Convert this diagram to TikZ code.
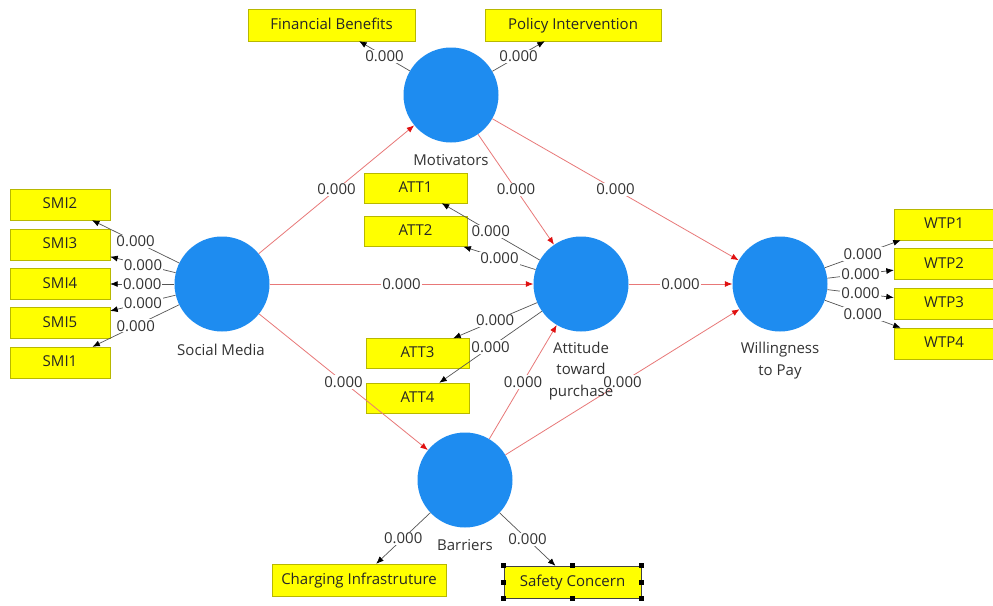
\documentclass[tikz,border=0pt]{standalone}
\usepackage{fontspec}
\setmainfont{Open Sans}
\usetikzlibrary{arrows.meta}
\definecolor{lvblue}{HTML}{1E8CF0}
\definecolor{indyellow}{HTML}{FFFF00}
\definecolor{indborder}{HTML}{B8B800}
\definecolor{pathred}{HTML}{E87878}
\definecolor{tipred}{HTML}{E01010}
\definecolor{txt}{HTML}{333333}
\definecolor{loadgray}{HTML}{555555}
\begin{document}
\begin{tikzpicture}[x=1pt,y=-1pt,
 lv/.style={circle, fill=lvblue, minimum size=95pt, inner sep=0pt},
 ind/.style={draw=indborder, fill=indyellow, minimum height=31pt, inner sep=0pt, text height=10.7pt, text depth=1.8pt, font=\fontsize{15}{17}\selectfont, text=black!85},
 lvname/.style={font=\fontsize{15}{21.5}\selectfont, text=txt, align=center},
 strpath/.style={draw=pathred, line width=0.8pt, -{Latex[length=7.5pt,width=6pt,color=tipred]}},
 loadpath/.style={draw=loadgray, line width=0.7pt, -{Latex[length=7.5pt,width=6pt,color=black]}},
 val/.style={fill=white, inner sep=1pt, font=\fontsize{15}{17}\selectfont, text=txt}]
\fill[white] (0,0) rectangle (993,605);
\useasboundingbox (0,0) rectangle (993,605);

% latent variables
\node[lv] (mot) at (451,95) {};
\node[lv] (sm) at (222,284) {};
\node[lv] (att) at (581,284) {};
\node[lv] (wtp) at (780,284) {};
\node[lv] (bar) at (465,480) {};

% indicators
\node[ind, minimum width=167pt, minimum height=32pt] (fb) at (331.5,25) {Financial Benefits};
\node[ind, minimum width=176pt, minimum height=32pt] (pi) at (573,25) {Policy Intervention};
\node[ind, minimum width=100pt] (smi2) at (60,204.5) {SMI2};
\node[ind, minimum width=100pt] (smi3) at (60,244.5) {SMI3};
\node[ind, minimum width=100pt] (smi4) at (60,284) {SMI4};
\node[ind, minimum width=100pt] (smi5) at (60,323) {SMI5};
\node[ind, minimum width=100pt] (smi1) at (60,362.5) {SMI1};
\node[ind, minimum width=103pt, minimum height=30pt] (att1) at (415.5,188) {ATT1};
\node[ind, minimum width=103pt, minimum height=30pt] (att2) at (415.5,231.5) {ATT2};
\node[ind, minimum width=103pt, minimum height=30pt] (att3) at (417.5,353.5) {ATT3};
\node[ind, minimum width=103pt, minimum height=30pt] (att4) at (417.5,398) {ATT4};
\node[ind, minimum width=100pt] (wtp1) at (944,224.5) {WTP1};
\node[ind, minimum width=100pt] (wtp2) at (944,264) {WTP2};
\node[ind, minimum width=100pt] (wtp3) at (944,303.5) {WTP3};
\node[ind, minimum width=100pt] (wtp4) at (944,343.5) {WTP4};
\node[ind, minimum width=174pt, minimum height=32pt] (ci) at (359,580) {Charging Infrastruture};
\node[ind, draw=black!75, minimum width=137pt, minimum height=32pt] (sc) at (572.5,582) {Safety Concern};
\foreach \a in {north west, north, north east, east, south east, south, south west, west}
  \fill[black] (sc.\a) ++(-2.5,-2.5) rectangle ++(5,5);

% structural paths
\draw[strpath] (sm) -- node[val]{0.000} (mot);
\draw[strpath] (sm) -- node[val]{0.000} (att);
\draw[strpath] (sm) -- node[val]{0.000} (bar);
\draw[strpath] (mot) -- node[val]{0.000} (att);
\draw[strpath] (mot) -- node[val]{0.000} (wtp);
\draw[strpath] (att) -- node[val]{0.000} (wtp);
\draw[strpath] (bar) -- node[val]{0.000} (att);
\draw[strpath] (bar) -- node[val]{0.000} (wtp);

% loadings
\draw[loadpath] (mot) -- node[val]{0.000} (fb);
\draw[loadpath] (mot) -- node[val]{0.000} (pi);
\foreach \t in {smi2,smi3,smi4,smi5,smi1}
  \draw[loadpath] (sm) -- node[val]{0.000} (\t);
\foreach \t in {att1,att2,att3,att4}
  \draw[loadpath] (att) -- node[val]{0.000} (\t);
\foreach \t in {wtp1,wtp2,wtp3,wtp4}
  \draw[loadpath] (wtp) -- node[val]{0.000} (\t);
\draw[loadpath] (bar) -- node[val]{0.000} (ci);
\draw[loadpath] (bar) -- node[val]{0.000} (sc);

% latent variable names
\node[lvname] (motl) at (451,160) {Motivators};
\node[lvname] (sml) at (221,350) {Social Media};
\node[lvname] (attl) at (581,371) {Attitude\\toward\\purchase};
\node[lvname] (wtpl) at (780,360.5) {Willingness\\to Pay};
\node[lvname] (barl) at (465,545) {Barriers};
\end{tikzpicture}
\end{document}
